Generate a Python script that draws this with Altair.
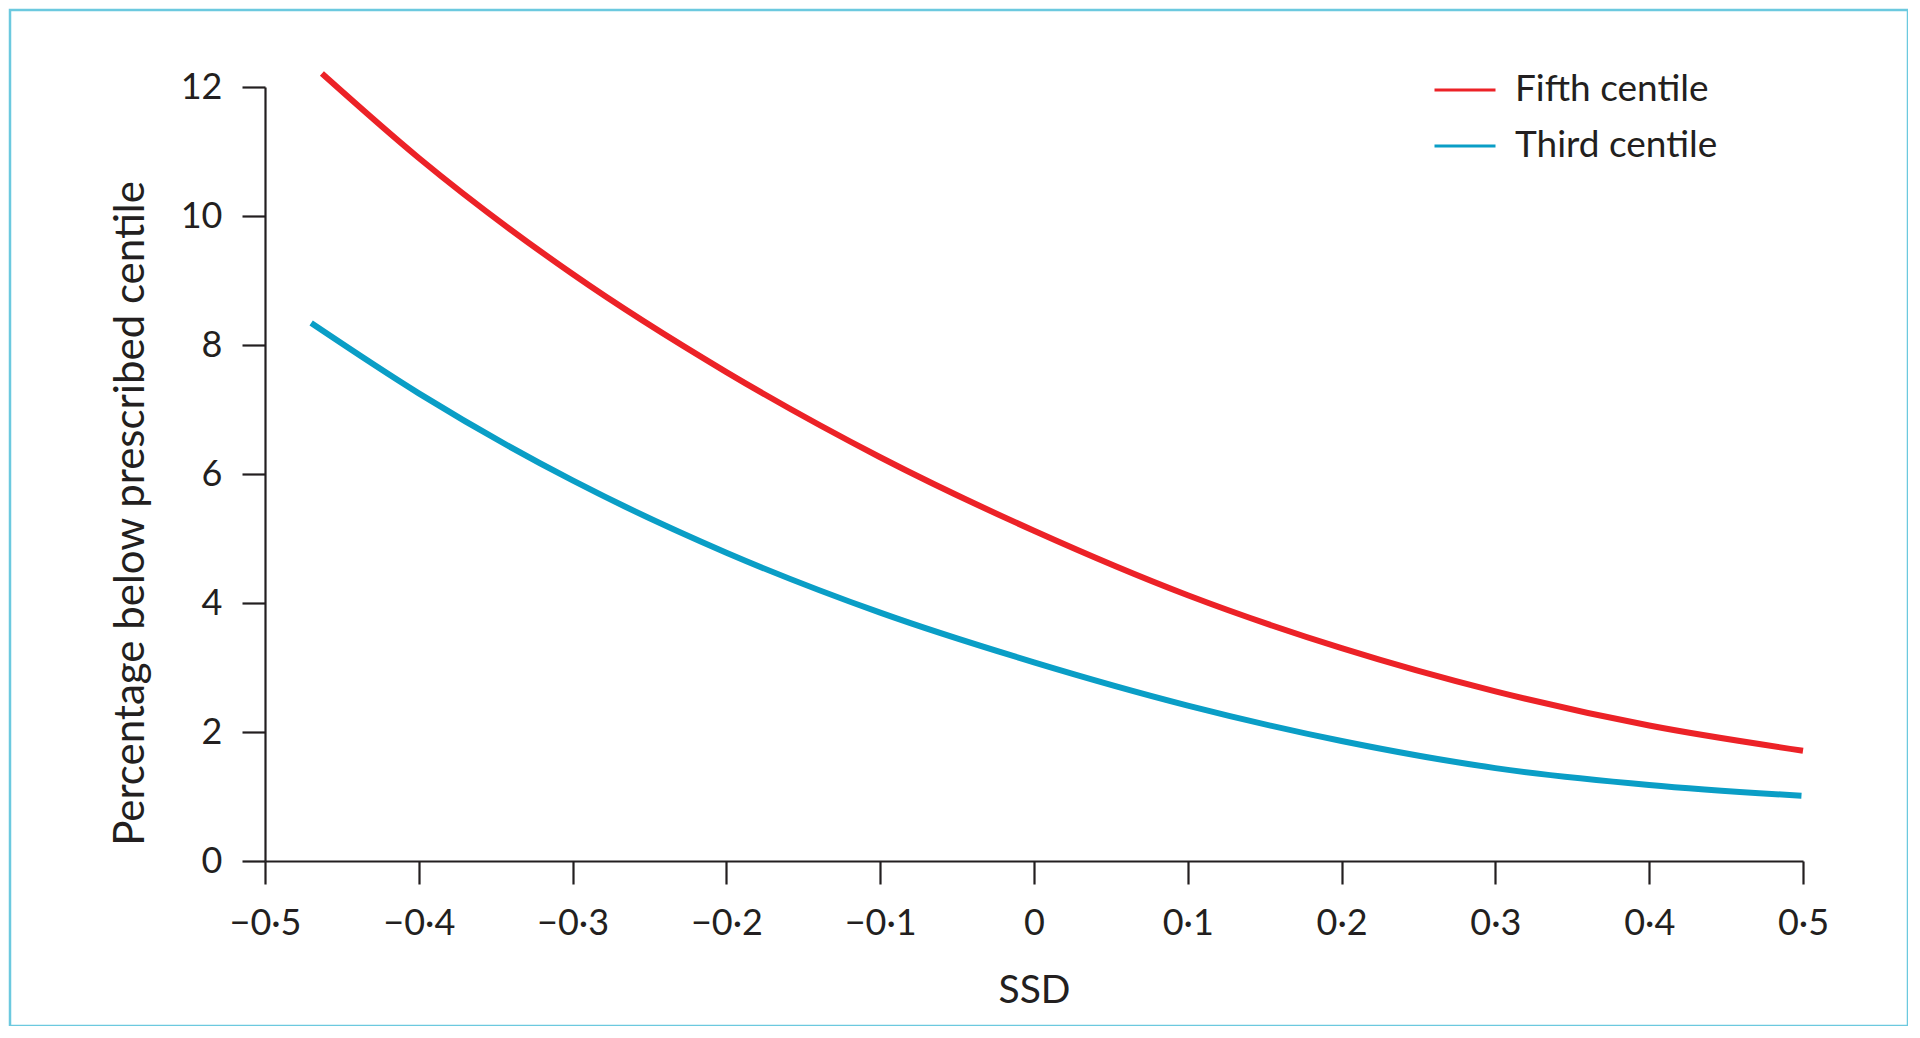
import altair as alt
import pandas as pd

# Values
fifth_ssd = [-0.463, -0.4, -0.3, -0.2, -0.1, 0.0, 0.1, 0.2, 0.3, 0.4, 0.5]
fifth_pct = [12.21, 10.90, 9.10, 7.58, 6.26, 5.12, 4.12, 3.30, 2.63, 2.10, 1.71]
third_ssd = [-0.470, -0.4, -0.3, -0.2, -0.1, 0.0, 0.1, 0.2, 0.3, 0.4, 0.499]
third_pct = [8.34, 7.25, 5.90, 4.78, 3.85, 3.08, 2.41, 1.86, 1.44, 1.18, 1.01]

series_names = ["Fifth centile", "Third centile"]
series_colors = ["#EC2227", "#0A9EC6"]
x_ticks = [-0.5, -0.4, -0.3, -0.2, -0.1, 0.0, 0.1, 0.2, 0.3, 0.4, 0.5]
y_ticks = [0, 2, 4, 6, 8, 10, 12]

df = pd.concat([
    pd.DataFrame({"ssd": fifth_ssd, "pct": fifth_pct, "series": series_names[0]}),
    pd.DataFrame({"ssd": third_ssd, "pct": third_pct, "series": series_names[1]}),
])

FONT = "Lato"
AXIS_COLOR = "#231F20"

label_expr = ("datum.value == 0 ? '0' : replace(replace(format(datum.value, '.1f'), '.', '\u00b7'), '-', '\u2212')")

lines = alt.Chart(df).mark_line(strokeWidth=6, interpolate="monotone", clip=False).encode(
    x=alt.X("ssd:Q",
            scale=alt.Scale(domain=[-0.5, 0.5], nice=False, zero=False),
            axis=alt.Axis(values=x_ticks, title="SSD", labelExpr=label_expr,
                          titleY=141, titleBaseline="alphabetic", titleFontSize=39,
                          labelPadding=22)),
    y=alt.Y("pct:Q",
            scale=alt.Scale(domain=[0, 12], nice=False),
            axis=alt.Axis(values=y_ticks, title="Percentage below prescribed centile",
                          titleAngle=270, titleX=-122, titleY=426, titleAlign="center",
                          titleBaseline="alphabetic", labelPadding=20)),
    color=alt.Color("series:N",
                    scale=alt.Scale(domain=series_names, range=series_colors),
                    legend=alt.Legend(title=None, orient="none", legendX=1168, legendY=-29,
                                      symbolType="stroke", symbolSize=3721, symbolStrokeWidth=3,
                                      labelFontSize=37, labelFont=FONT, labelColor=AXIS_COLOR,
                                      labelOffset=18, labelLimit=500, rowPadding=6, padding=0)),
)

frame = alt.Chart(pd.DataFrame({"k": [0]})).mark_rect(
    fill=None, stroke="#6CC9DF", strokeWidth=2.5, clip=False
).encode(
    x=alt.value(-255), x2=alt.value(1643), y=alt.value(-77), y2=alt.value(939)
)

chart = alt.layer(frame, lines).properties(
    width=1538, height=774,
    background="white",
    autosize=alt.AutoSizeParams(type="none"),
    padding={"left": 257, "top": 79, "right": 105, "bottom": 165},
).configure_view(stroke=None).configure_axis(
    domainColor=AXIS_COLOR, domainWidth=2.2, tickColor=AXIS_COLOR, tickWidth=2.2,
    tickSize=23, grid=False, labelFont=FONT, labelFontSize=36, labelColor=AXIS_COLOR,
    titleFont=FONT, titleFontSize=42, titleColor=AXIS_COLOR, titleFontWeight="normal",
    labelFlush=False, labelOverlap=False
)

chart.save("out.html", embed_options={"renderer": "svg", "actions": False})
